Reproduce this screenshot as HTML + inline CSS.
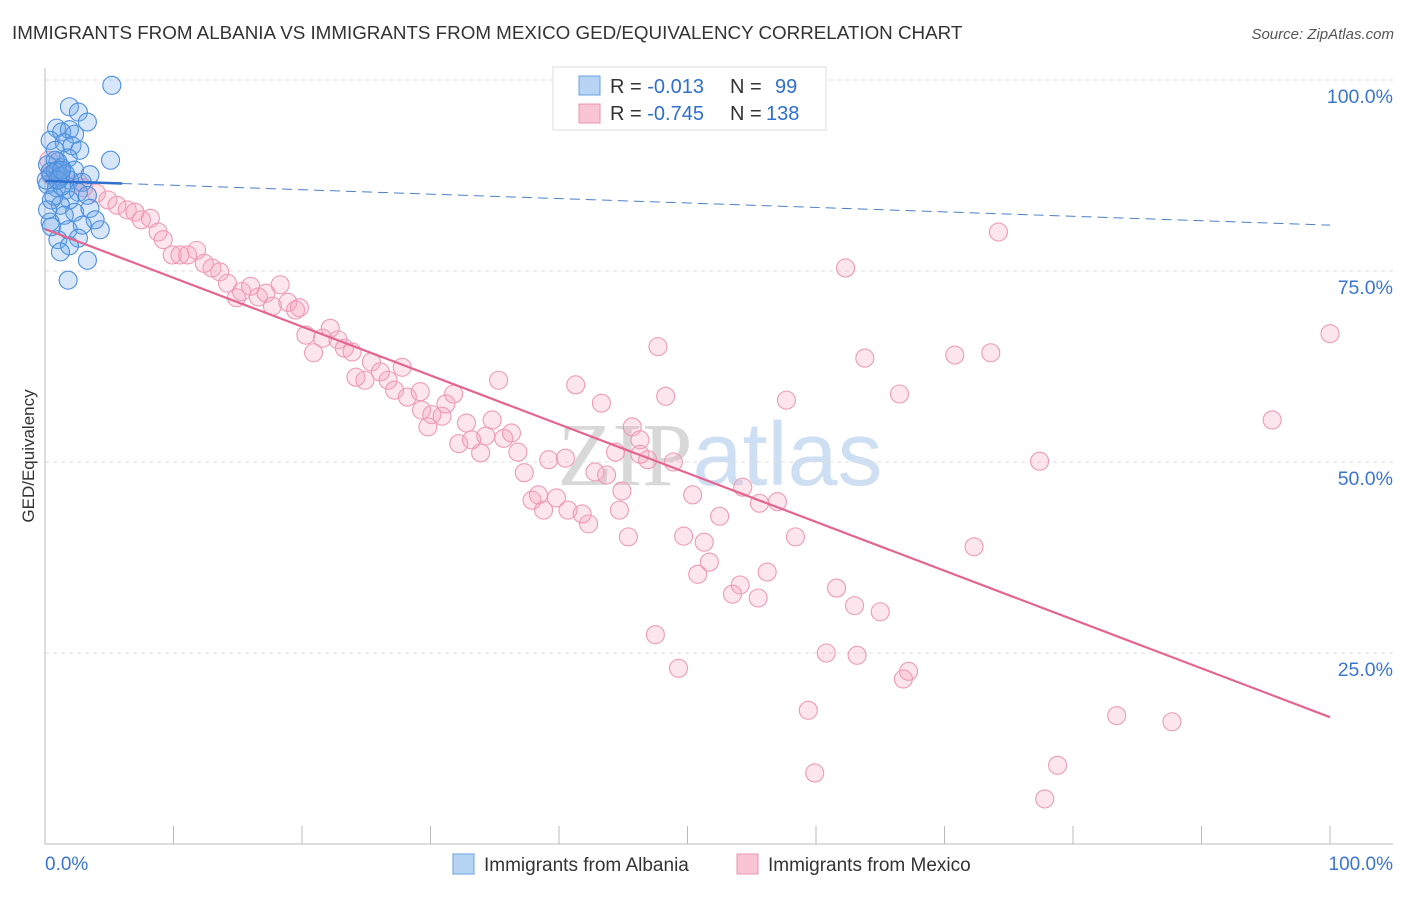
<!DOCTYPE html>
<html><head><meta charset="utf-8"><style>
body{margin:0;background:#fff;font-family:"Liberation Sans",sans-serif;}
</style></head><body>
<svg width="1406" height="892" xmlns="http://www.w3.org/2000/svg" style="font-family:'Liberation Sans',sans-serif">
<text x="12" y="39" font-size="18.8" fill="#333">IMMIGRANTS FROM ALBANIA VS IMMIGRANTS FROM MEXICO GED/EQUIVALENCY CORRELATION CHART</text>
<text x="1394" y="39" font-size="15" fill="#555" font-style="italic" text-anchor="end">Source: ZipAtlas.com</text>
<text x="720" y="485" font-size="90" fill="#e4e8ee" text-anchor="middle"><tspan font-family="Liberation Serif" fill="#d8d8d8">ZIP</tspan><tspan fill="#cfdff3">atlas</tspan></text>
<g id="grid"></g><g id="axes"></g><g id="pts"></g><g id="trends"></g>
<text transform="translate(34,456) rotate(-90)" font-size="17" fill="#333" text-anchor="middle">GED/Equivalency</text>
<g>
<rect x="553" y="67" width="273" height="63" fill="#fff" stroke="#ddd"/>
<rect x="579" y="76" width="21" height="19" fill="#b8d4f5" stroke="#6aa0e0"/>
<rect x="579" y="104" width="21" height="19" fill="#f9c4d4" stroke="#eb93b0"/>
<text x="610" y="93" font-size="20" fill="#333">R = <tspan fill="#2f6fce">-0.013</tspan></text>
<text x="730" y="93" font-size="20" fill="#333">N = <tspan fill="#2f6fce" x="775">99</tspan></text>
<text x="610" y="120" font-size="20" fill="#333">R = <tspan fill="#2f6fce">-0.745</tspan></text>
<text x="730" y="120" font-size="20" fill="#333">N = <tspan fill="#2f6fce" x="766">138</tspan></text>
</g>
<g>
<rect x="453" y="854" width="21" height="20" fill="#b8d4f5" stroke="#6aa0e0"/>
<text x="484" y="871" font-size="19" fill="#333">Immigrants from Albania</text>
<rect x="737" y="854" width="21" height="20" fill="#f9c4d4" stroke="#eb93b0"/>
<text x="768" y="871" font-size="19" fill="#333">Immigrants from Mexico</text>
</g>
</svg>
<script>
const yTicks=[25,50,75,100];
const yTickLabels=["25.0%","50.0%","75.0%","100.0%"];
const xTicks=[0,10,20,30,40,50,60,70,80,90,100];
const blueX=[5.2,1.9,2.6,3.3,0.9,1.9,1.3,2.3,0.4,1.5,2.1,2.7,0.8,5.1,1.8,1.0,0.2,1.3,2.3,3.5,0.5,1.2,1.9,2.9,0.2,0.9,1.6,2.6,3.3,0.5,1.9,1.2,2.3,3.5,1.5,3.9,0.4,2.9,1.8,4.3,2.6,1.0,1.9,1.2,3.3,1.8,0.8,1.0,0.4,0.1,1.3,0.7,0.2,0.5,0.8,1.2,1.6,1.0,1.3];
const blueY=[99.3,96.5,95.8,94.5,93.7,93.5,93.2,92.9,92.1,91.8,91.4,90.8,90.8,89.5,89.8,89.3,88.9,88.5,88.2,87.6,87.6,87.2,86.9,86.6,86.3,85.9,85.6,85.3,84.9,84.3,84.3,83.6,82.7,83.2,82.3,81.7,81.4,81.0,80.4,80.4,79.3,79.1,78.3,77.5,76.4,73.8,89.5,88.2,88.0,86.9,86.1,84.8,83.0,80.8,88.0,87.4,87.7,86.9,88.2];
const pinkX=[56.8,74.2,62.3,100,47.7,63.8,70.8,73.6,35.3,41.3,48.3,43.3,57.7,66.5,95.5,45.7,46.3,77.4,48.9,39.2,40.5,43.7,42.8,50.4,54.3,55.6,57.0,52.5,45.4,49.7,51.3,58.4,72.3,51.7,50.8,56.2,54.1,53.5,55.5,61.6,63.0,65.0,47.5,49.3,60.8,63.2,67.2,66.8,59.4,83.4,87.7,78.8,59.9,77.8,
0.3,1.2,2.6,3.0,4.0,4.9,5.6,6.4,7.0,7.5,8.2,8.8,9.2,9.9,10.5,11.1,11.8,12.4,13.0,13.6,14.2,14.9,15.3,16.0,16.6,17.2,17.7,18.3,18.9,19.5,19.8,20.3,20.9,21.6,22.2,22.8,23.3,23.9,24.2,24.9,25.4,26.1,26.7,27.2,27.8,28.2,29.2,29.3,29.8,30.1,30.9,31.2,31.8,32.2,32.8,33.2,33.9,34.3,34.8,35.7,36.3,36.8,37.3,37.9,38.4,38.8,39.8,40.7,41.8,42.3,44.7,44.9,44.4,46.3,46.9,1.2,0.4,0.8];
const pinkY=[100,80.1,75.4,66.8,65.1,63.6,64.0,64.3,60.7,60.1,58.6,57.7,58.1,58.9,55.5,54.6,52.9,50.1,50.0,50.3,50.5,48.3,48.7,45.7,46.7,44.6,44.8,42.9,40.2,40.3,39.5,40.2,38.9,36.9,35.3,35.6,33.9,32.7,32.2,33.5,31.2,30.4,27.4,23.0,25.0,24.7,22.6,21.6,17.5,16.8,16.0,10.3,9.3,5.9,
89.5,87.6,86.6,85.9,85.2,84.3,83.6,83.0,82.7,81.7,81.9,80.1,79.1,77.1,77.1,77.1,77.7,76.0,75.4,74.9,73.4,71.5,72.3,73.0,71.6,72.1,70.4,73.2,70.9,69.9,70.2,66.6,64.3,66.2,67.5,66.0,64.9,64.4,61.1,60.7,63.1,61.8,60.7,59.4,62.4,58.5,59.2,56.8,54.6,56.2,56.0,57.6,58.9,52.4,55.1,52.9,51.2,53.4,55.5,53.1,53.8,51.3,48.6,45.0,45.7,43.7,45.3,43.7,43.2,41.9,43.7,46.2,51.3,51.0,50.3,88.2,87.6,86.9];
const blueTrend=[86.8,81.0];
const pinkTrend=[80.5,16.6];
const NS="http://www.w3.org/2000/svg";
const X=v=>45+v*12.85, Y=v=>844-v*7.64;
function mk(tag,attrs,parent){const e=document.createElementNS(NS,tag);for(const k in attrs)e.setAttribute(k,attrs[k]);document.getElementById(parent).appendChild(e);return e;}
yTicks.forEach((t,i)=>{
 const l=mk('line',{x1:45,x2:1393,y1:Y(t),y2:Y(t),stroke:'#ddd','stroke-dasharray':'4,4'},'grid');
 
 
 const tx=mk('text',{x:1393,y:Y(t)+23,'font-size':19.5,fill:'#3a75d0','text-anchor':'end'},'axes');
 tx.textContent=yTickLabels[i];
 
 
});
let ax=mk('line',{x1:45,x2:1393,y1:844,y2:844,stroke:'#bbb'},'axes');


let ay=mk('line',{x1:45,x2:45,y1:68,y2:844,stroke:'#bbb'},'axes');


xTicks.forEach(t=>{
 const l=mk('line',{x1:X(t),x2:X(t),y1:826,y2:844,stroke:'#bbb'},'axes');
 
 
});
[[0,"0.0%","start",45],[100,"100.0%","end",1393]].forEach(a=>{
 const tx=mk('text',{x:a[3],y:870,'font-size':19,fill:'#3a75d0','text-anchor':a[2]},'axes');
 tx.textContent=a[1];
 
 
});
pinkX.forEach((v,i)=>{
 const c=mk('circle',{cx:X(v),cy:Y(pinkY[i]),r:9,fill:'rgba(244,160,188,0.28)',stroke:'#ee9ab6','stroke-width':1.1},'pts');
 
 
});
blueX.forEach((v,i)=>{
 const c=mk('circle',{cx:X(v),cy:Y(blueY[i]),r:9,fill:'rgba(110,165,230,0.28)',stroke:'#4a8fe0','stroke-width':1.1},'pts');
 
 
});
const bs=blueTrend[0]+(blueTrend[1]-blueTrend[0])*0.06;
let b1=mk('line',{x1:X(0),y1:Y(blueTrend[0]),x2:X(6),y2:Y(bs),stroke:'#2f70d0','stroke-width':2.5},'trends');


let b2=mk('line',{x1:X(6),y1:Y(bs),x2:X(100),y2:Y(blueTrend[1]),stroke:'#4a80c8','stroke-width':1,'stroke-dasharray':'10,6'},'trends');


let p=mk('line',{x1:X(0),y1:Y(pinkTrend[0]),x2:X(100),y2:Y(pinkTrend[1]),stroke:'#e4648e','stroke-width':2.2},'trends');


</script>
</body></html>
